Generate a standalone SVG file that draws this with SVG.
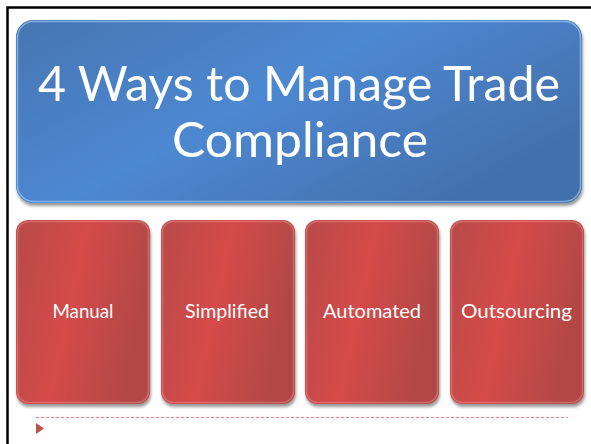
<svg xmlns="http://www.w3.org/2000/svg" width="591" height="444" viewBox="0 0 591 444">
  <defs>
    <linearGradient id="blueGrad" x1="0" y1="0" x2="1" y2="0.6">
      <stop offset="0" stop-color="#4675b2"/>
      <stop offset="0.5" stop-color="#4d88d2"/>
      <stop offset="1" stop-color="#4370ad"/>
    </linearGradient>
    <linearGradient id="redGrad" x1="0" y1="0" x2="1" y2="0.3">
      <stop offset="0" stop-color="#b84a48"/>
      <stop offset="0.5" stop-color="#d54b4a"/>
      <stop offset="1" stop-color="#b24745"/>
    </linearGradient>
    <filter id="shadow" x="-5%" y="-5%" width="110%" height="115%">
      <feDropShadow dx="1" dy="3" stdDeviation="1.5" flood-color="#000" flood-opacity="0.4"/>
    </filter>
  </defs>
  <style>
    .title { font-family: "Lato", "Open Sans", "Liberation Sans", sans-serif; font-size: 48px; fill: #ffffff; text-anchor: middle; }
    .label { font-family: "Lato", "Open Sans", "Liberation Sans", sans-serif; font-size: 20px; fill: #ffffff; text-anchor: middle; }
    .redbox { fill: url(#redGrad); filter: url(#shadow); }
    .redhl { fill: none; stroke: #f0a0a0; stroke-width: 1.5; stroke-opacity: 0.4; }
    .bluehl { fill: none; stroke: #a8d0f8; stroke-width: 1.5; stroke-opacity: 0.6; }
  </style>
  <rect x="0" y="0" width="591" height="444" fill="#ffffff"/>
  <rect id="frame" x="7.5" y="7.5" width="600" height="460" fill="#ffffff" stroke="#000000" stroke-width="2.5"/>

  <g id="title">
    <rect x="16" y="20" width="566" height="183" rx="17" ry="17" fill="url(#blueGrad)" filter="url(#shadow)"/>
    <rect x="17.5" y="21.5" width="563" height="180" rx="16" ry="16" class="bluehl"/>
    <text class="title" x="299" y="101" textLength="522" lengthAdjust="spacingAndGlyphs">4 Ways to Manage Trade</text>
    <text class="title" x="300" y="157" textLength="256" lengthAdjust="spacingAndGlyphs">Compliance</text>
  </g>

  <g id="manual">
    <rect class="redbox" x="16" y="220" width="134" height="184" rx="12" ry="12"/>
    <rect class="redhl" x="17.5" y="221.5" width="131" height="181" rx="11" ry="11"/>
    <text class="label" x="83" y="318" textLength="61" lengthAdjust="spacingAndGlyphs">Manual</text>
  </g>
  <g id="simplified">
    <rect class="redbox" x="161" y="220" width="134" height="184" rx="12" ry="12"/>
    <rect class="redhl" x="162.5" y="221.5" width="131" height="181" rx="11" ry="11"/>
    <text class="label" x="227" y="318" textLength="84" lengthAdjust="spacingAndGlyphs">Simplified</text>
  </g>
  <g id="automated">
    <rect class="redbox" x="305" y="220" width="134" height="184" rx="12" ry="12"/>
    <rect class="redhl" x="306.5" y="221.5" width="131" height="181" rx="11" ry="11"/>
    <text class="label" x="372" y="318" textLength="98" lengthAdjust="spacingAndGlyphs">Automated</text>
  </g>
  <g id="outsourcing">
    <rect class="redbox" x="450" y="220" width="134" height="184" rx="12" ry="12"/>
    <rect class="redhl" x="451.5" y="221.5" width="131" height="181" rx="11" ry="11"/>
    <text class="label" x="516.5" y="318" textLength="111" lengthAdjust="spacingAndGlyphs">Outsourcing</text>
  </g>

  <g id="connectors"></g>

  <line x1="36" y1="417.5" x2="568" y2="417.5" stroke="#e3827f" stroke-width="1" stroke-dasharray="3,2"/>
  <polygon points="36,423 44,428.5 36,434" fill="#c0504d"/>
</svg>
